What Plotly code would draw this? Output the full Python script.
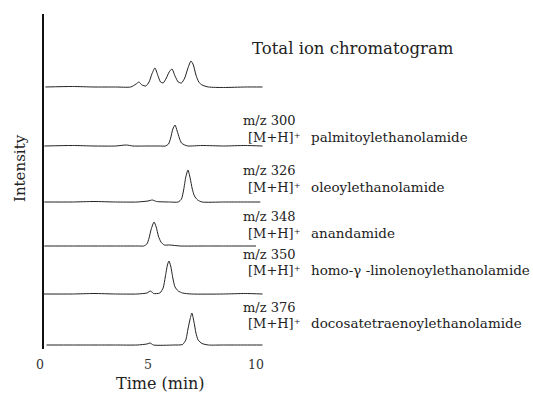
import plotly.graph_objects as go

# ---- data (time in min, relative intensity) ----
tic_t = [0.25, 1.5, 2.5, 3.5, 4.2, 4.45, 4.58, 4.72, 4.9, 5.05, 5.18, 5.32, 5.45, 5.58, 5.7, 5.85, 5.98, 6.11,
         6.25, 6.4, 6.55, 6.7, 6.85, 6.99, 7.1, 7.22, 7.35, 7.5, 7.8, 8.5, 9.5, 10.3]
tic_i = [0, 0.5, 0, 0, 0, 3, 5, 2, 1, 5, 13, 19, 12, 5, 4, 9, 15, 18,
         11, 5, 4, 9, 19, 26, 22, 12, 5, 2, 0, -0.5, 0, 0]

palm_t = [0.2, 1.5, 2.5, 3.5, 4.0, 4.3, 5.0, 5.5, 5.8, 5.95, 6.05, 6.15, 6.25, 6.35, 6.45, 6.55, 6.7, 6.85,
          7.5, 8.5, 9.5, 10.3]
palm_i = [0, 0.5, 0, 0, 1, 0, 0, 0, 0, 2, 8, 17, 21, 15, 8, 3, 1, 0,
          0.5, 0, 0.5, 0]

oleo_t = [0.2, 1.5, 2.5, 3.5, 4.5, 5.0, 5.2, 5.4, 6.0, 6.4, 6.55, 6.65, 6.75, 6.85, 6.95, 7.05, 7.15, 7.3,
          7.5, 8.5, 9.5, 10.2]
oleo_i = [0, 0, 0.5, 0, 0, 1, 2, 0.5, 0, 0, 3, 12, 25, 32, 24, 13, 6, 2,
          0, 0, 0, 0]

anan_t = [0.2, 1.5, 2.5, 3.5, 4.5, 4.8, 4.95, 5.05, 5.15, 5.28, 5.38, 5.48, 5.6, 5.75, 6.0, 6.5, 7.5, 8.5,
          9.5, 10.0]
anan_i = [0, 0, 0, 0, 0, 0, 2, 8, 17, 24, 19, 10, 4, 1, 1, 0, 0, 0,
          0, 0]

homo_t = [0.15, 1.5, 2.5, 3.5, 4.5, 4.95, 5.12, 5.25, 5.55, 5.7, 5.8, 5.9, 5.97, 6.05, 6.15, 6.25, 6.4, 6.6,
          7.0, 8.5, 9.5, 10.3]
homo_i = [0, 0, 0.5, 0, 0, 1, 3, 0.5, 1, 6, 17, 29, 33, 28, 16, 7, 3, 1,
          0, 0, 0.5, 0]

doco_t = [0.3, 1.5, 2.5, 3.5, 4.5, 4.95, 5.1, 5.25, 6.2, 6.6, 6.75, 6.85, 6.95, 7.03, 7.12, 7.22, 7.32, 7.5,
          7.8, 8.5, 9.5, 10.3]
doco_i = [0, 0, 0, 0, 0, 1, 2, 0, 0, 0.5, 5, 16, 26, 32, 24, 12, 5, 1.5,
          0, 0, 0, 0]

mz_labels = ["m/z 300", "m/z 326", "m/z 348", "m/z 350", "m/z 376"]
ion_label = "[M+H]\u207a"
compound_names = ["palmitoylethanolamide", "oleoylethanolamide", "anandamide",
                  "homo-\u03b3 -linolenoylethanolamide", "docosatetraenoylethanolamide"]
tic_label = "Total ion chromatogram"
x_ticks = [0, 5, 10]

# ---- layout constants (pixel geometry) ----
W, H = 533, 397
L, T, B = 40, 14, 48          # margins
PXM = 21.6                     # pixels per minute
plot_h = H - T - B
plot_w = W - L
x_max = plot_w / PXM

def ypx(py):   # pixel row -> data y
    return (H - B) - py

def xpx(px):   # pixel column -> minutes
    return (px - L) / PXM

def px_paper(px):
    return (px - L) / plot_w

def py_paper(py):
    return ((H - B) - py) / plot_h

series = [(tic_t, tic_i, 87), (palm_t, palm_i, 146), (oleo_t, oleo_i, 202),
          (anan_t, anan_i, 246), (homo_t, homo_i, 294), (doco_t, doco_i, 345)]

fig = go.Figure()
for t, inten, base in series:
    off = ypx(base)
    fig.add_trace(go.Scatter(x=t, y=[v + off for v in inten], mode="lines",
                             line=dict(color="#222222", width=1, shape="spline", smoothing=0.6),
                             showlegend=False, hoverinfo="skip"))

FONT = "DejaVu Serif"
ann = []
ann.append(dict(x=px_paper(250), y=py_paper(48), text=tic_label, xanchor="left", yanchor="middle",
                font=dict(size=16.5, family=FONT, color="#222")))
mz_rows = [(121, 137), (171, 187), (217, 233), (254, 270), (307, 323)]
for (r1, r2), mz, name in zip(mz_rows, mz_labels, compound_names):
    ann.append(dict(x=px_paper(298), y=py_paper(r1), text=mz, xanchor="right", yanchor="middle",
                    font=dict(size=13, family=FONT, color="#222")))
    ann.append(dict(x=px_paper(303), y=py_paper(r2), text=ion_label, xanchor="right", yanchor="middle",
                    font=dict(size=13, family=FONT, color="#222")))
    ann.append(dict(x=px_paper(309), y=py_paper(r2), text=name, xanchor="left", yanchor="middle",
                    font=dict(size=13.5, family=FONT, color="#222")))
ann.append(dict(x=px_paper(20), y=py_paper(168), text="Intensity", textangle=-90, xanchor="center",
                yanchor="middle", font=dict(size=15, family=FONT, color="#222")))
ann.append(dict(x=px_paper(160), y=py_paper(383), text="Time (min)", xanchor="center", yanchor="middle",
                font=dict(size=16, family=FONT, color="#222")))
for a in ann:
    a.update(xref="paper", yref="paper", showarrow=False)

shapes = [
    dict(type="line", xref="x", yref="y", x0=xpx(43), x1=xpx(43), y0=ypx(14), y1=ypx(350),
         line=dict(color="#111", width=2)),
    dict(type="line", xref="x", yref="y", x0=xpx(42), x1=xpx(250), y0=ypx(350), y1=ypx(350),
         line=dict(color="#999", width=1.5)),
]

fig.update_layout(
    width=W, height=H, margin=dict(l=L, r=0, t=T, b=B),
    paper_bgcolor="white", plot_bgcolor="white",
    annotations=ann, shapes=shapes,
    xaxis=dict(range=[0, x_max], showgrid=False, zeroline=False, showline=False,
               tickvals=x_ticks, ticktext=[str(v) for v in x_ticks], ticks="",
               ticklabelstandoff=6,
               tickfont=dict(size=12.5, family=FONT, color="#333")),
    yaxis=dict(range=[0, plot_h], visible=False),
)
fig.write_html("out.html")
